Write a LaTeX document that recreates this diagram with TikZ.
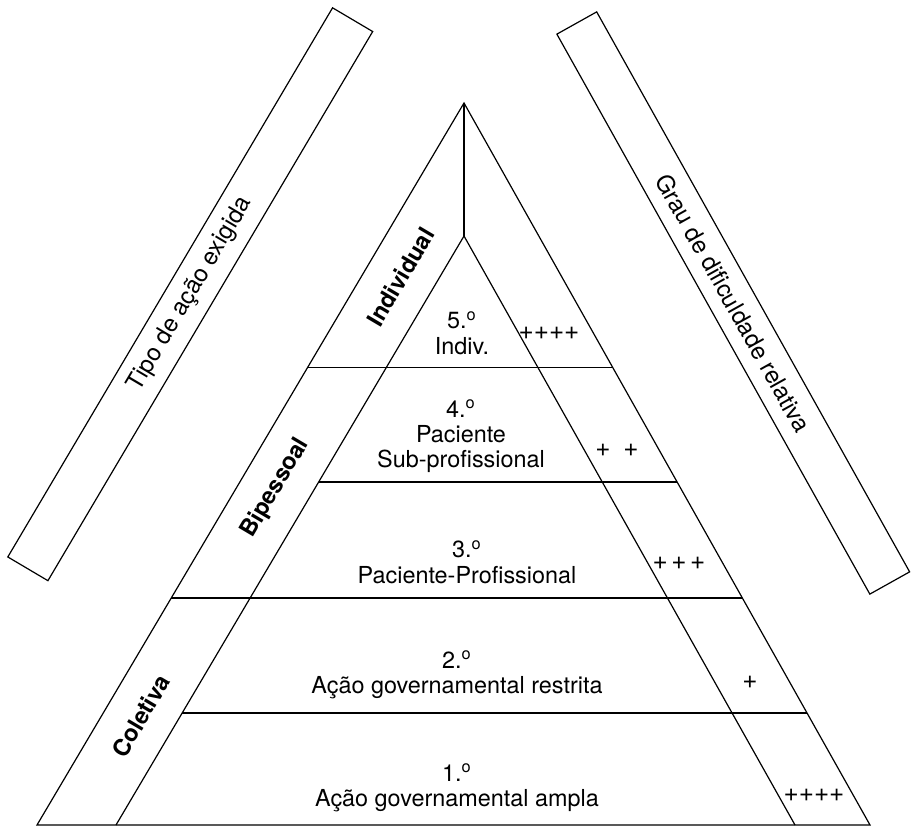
\documentclass[tikz,border=0pt]{standalone}
\usepackage{fontspec}
\setmainfont{TeX Gyre Heros}

\begin{document}
\begin{tikzpicture}[x=0.5pt,y=-0.5pt,line width=0.6pt,
	caixa/.style={draw, inner sep=0pt, font=\fontsize{12}{14}\selectfont},
	faixatxt/.style={rotate=59.4, font=\fontsize{11.7}{13}\selectfont\bfseries},
	niveltxt/.style={align=center, font=\fontsize{11.7}{12.6}\selectfont},
	sinal/.style={font=\fontsize{13}{14}\selectfont}]

	\useasboundingbox (0,0) rectangle (913,833);

	% piramide
	\coordinate (topo) at (464,103);
	\coordinate (meio) at (464,236);
	\coordinate (bl) at (37,825);
	\coordinate (br) at (870,825);
	\coordinate (il) at (116,825);
	\coordinate (ir) at (795,825);

	\draw (bl) -- (topo) -- (br) -- cycle;
	\draw (topo) -- (meio);
	\draw (il) -- (meio) -- (ir);

	% divisoes dos niveis
	\coordinate (h1l) at (307.6,367.5);  \coordinate (h1r) at (612.6,367.5);
	\coordinate (h2l) at (318.5,482);    \coordinate (h2r) at (676.9,482);
	\coordinate (h3l) at (171.3,598);    \coordinate (h3r) at (742.1,598);
	\coordinate (h4l) at (181.9,713);    \coordinate (h4r) at (806.7,713);
	\draw (h1l) -- (h1r);
	\draw (h2l) -- (h2r);
	\draw (h3l) -- (h3r);
	\draw (h4l) -- (h4r);

	% tipo de acao
	\node[faixatxt] (indiv) at (400.4,277) {Individual};
	\node[faixatxt] (bipes) at (275.6,488) {Bipessoal};
	\node[faixatxt] (colet) at (140.8,716) {Coletiva};

	% niveis
	\node[niveltxt] (n5) at (462,333) {5.\textsuperscript{o}\\Indiv.};
	\node[niveltxt] (n4) at (461,436) {4.\textsuperscript{o}\\Paciente\\Sub-profissional};
	\node[niveltxt] (n3) at (467,562) {3.\textsuperscript{o}\\Paciente-Profissional};
	\node[niveltxt] (n2) at (457,675) {2.\textsuperscript{o}\\Ação governamental restrita};
	\node[niveltxt] (n1) at (457,788) {1.\textsuperscript{o}\\Ação governamental ampla};

	% grau de dificuldade
	\node[sinal] (s5) at (549,333) {++++};
	\node[sinal] (s4) at (617,450) {+\hspace{6.4pt}+};
	\node[sinal] (s3) at (679,563) {+\kern1.8pt+\kern1.8pt+};
	\node[sinal] (s2) at (750,682) {+};
	\node[sinal] (s1) at (814,795) {++++};

	% caixas laterais
	\node[caixa, rotate=59.4, minimum width=319pt, minimum height=23.3pt]
		(tipo) at (190.25,294.25) {Tipo de ação exigida};
	\node[caixa, rotate=-60.8, minimum width=320.75pt, minimum height=22.8pt]
		(grau) at (733.25,303) {Grau de dificuldade relativa};

\end{tikzpicture}
\end{document}
